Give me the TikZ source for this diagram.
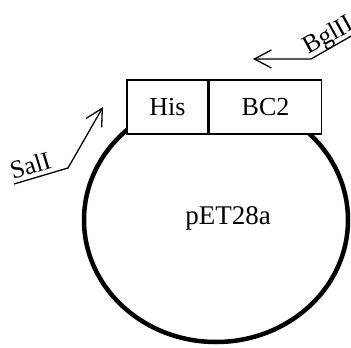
\documentclass[tikz,border=0pt]{standalone}
\usepackage{fontspec}
\setmainfont{Liberation Serif}
\usetikzlibrary{arrows.meta,calc}
\begin{document}
\begin{tikzpicture}[x=1pt,y=-1pt,
  seg/.style={draw, fill=white, line width=1.5pt, inner sep=0pt, minimum height=54pt,
    font=\fontsize{26}{30}\selectfont},
  site/.style={font=\fontsize{25.5}{29}\selectfont, inner sep=0pt},
  cut/.style={line width=1.3pt, -{Straight Barb[length=17pt,width=18pt,line width=1.3pt]}}]
\useasboundingbox (0,0) rectangle (351,348);
% plasmid backbone
\draw[line width=4.5pt] (216,220) ellipse [x radius=132, y radius=122];
\node[font=\fontsize{27}{31}\selectfont] (vec) at (228,218) {pET28a};
% inserted cassette
\node[seg, minimum width=81pt] (his) at (167.5,107) {His};
\node[seg, minimum width=112pt, anchor=west] (bc) at (his.east) {BC2};
% SalI site: underlined label leading into an arrow
\coordinate (salA) at (14,184);
\coordinate (salB) at (68,168);
\coordinate (salT) at (103,107);
\node[site, rotate=17, anchor=base west] (sal) at ($(salA)+(-1,-4)$) {SalI};
\draw[cut] (salA) -- (salB) -- (salT);
% BglII site
\coordinate (bglA) at (353,35);
\coordinate (bglB) at (311,59);
\coordinate (bglT) at (253,59);
\node[site, rotate=29, anchor=base west] (bgl) at ($(bglB)+(-3,-4)$) {BglII};
\draw[cut] (bglA) -- (bglB) -- (bglT);
\end{tikzpicture}
\end{document}
